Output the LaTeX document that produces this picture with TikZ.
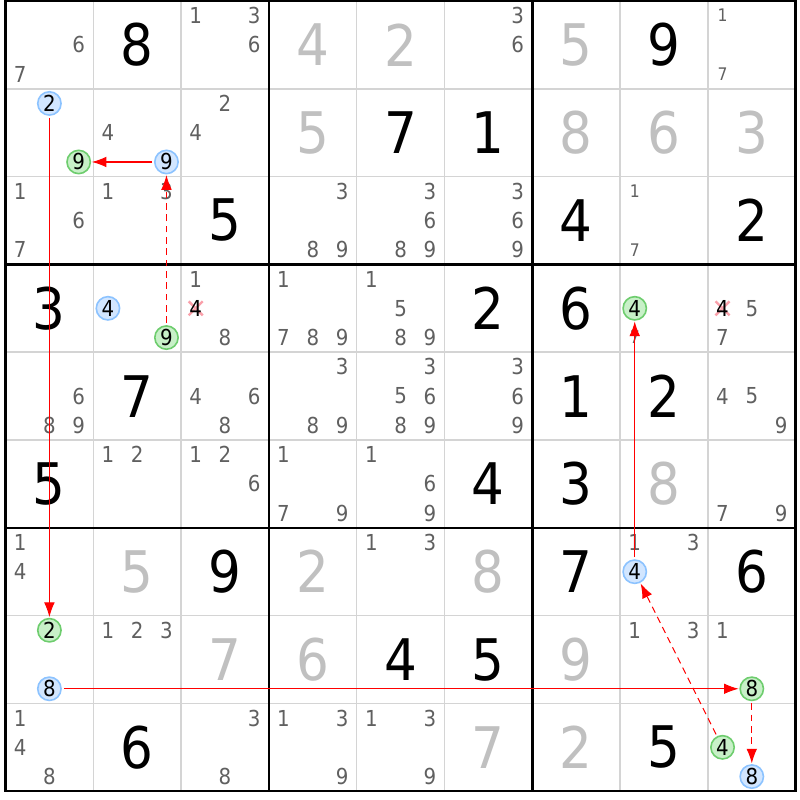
\documentclass[tikz,border=0pt]{standalone}
\usepackage{fontspec}
\setmainfont{DejaVu Sans Condensed}
\usepackage{tikz}
\usetikzlibrary{arrows.meta}
\definecolor{candgray}{RGB}{96,96,96}
\definecolor{setgray}{RGB}{192,192,192}
\definecolor{thingray}{RGB}{212,212,212}
\definecolor{onblue}{RGB}{210,230,255}
\definecolor{onblueline}{RGB}{140,195,255}
\definecolor{ongreen}{RGB}{200,240,200}
\definecolor{ongreenline}{RGB}{110,205,110}
\definecolor{crosspink}{RGB}{250,160,170}
\tikzstyle{given} = [font=\fontsize{43}{43}\selectfont, text=black, inner sep=0pt]
\tikzstyle{solved} = [given, text=setgray]
\tikzstyle{cand} = [font=\fontsize{16.5}{16.5}\selectfont, text=candgray, inner sep=0pt]
\tikzstyle{smallcand} = [cand, font=\fontsize{13}{13}\selectfont]
\tikzstyle{blueon} = [circle, draw=onblueline, fill=onblue, line width=1.2pt,
    minimum size=17.5pt, inner sep=0pt, font=\fontsize{16.5}{16.5}\selectfont]
\tikzstyle{greenon} = [blueon, draw=ongreenline, fill=ongreen]
\tikzstyle{link} = [draw, red, line width=0.8pt, -{Latex[length=11pt,width=8pt]},
    shorten <=1.5pt, shorten >=0.5pt]
\tikzstyle{weaklink} = [link, dash pattern=on 5pt off 3.5pt]
% big digit of a cell: [style]{row}{column}{digit}
\newcommand{\celldigit}[4][given]{\node[#1] (v#2#3) at ({5.5+(#3-0.5)*87.8},{1+(#2-0.5)*87.8}) {#4};}
% candidates of a cell: [style]{row}{column}{digits}
\newcommand{\cands}[4][cand]{\foreach \dg in {#4} {\node[#1] (k#2#3\dg) at
    ({5.5+(#3-1)*87.8+(mod(\dg-1,3)+0.5)*29.267},{1+(#2-1)*87.8+(div(\dg-1,3)+0.5)*29.267}) {\dg};}}
% circled candidate: {style}{row}{column}{digit}
\newcommand{\oncand}[4]{\node[#1] (o#2#3#4) at
    ({5.5+(#3-1)*87.8+(mod(#4-1,3)+0.5)*29.267},{1+(#2-1)*87.8+(div(#4-1,3)+0.5)*29.267}) {#4};}
% eliminated candidate: {row}{column}{digit}
\newcommand{\struckcand}[3]{\coordinate (x#1#2#3) at
    ({5.5+(#2-1)*87.8+(mod(#3-1,3)+0.5)*29.267},{1+(#1-1)*87.8+(div(#3-1,3)+0.5)*29.267});
    \draw[crosspink, line width=1.8pt] ([shift={(-7,-7)}]x#1#2#3) -- ([shift={(7,7)}]x#1#2#3)
        ([shift={(-7,7)}]x#1#2#3) -- ([shift={(7,-7)}]x#1#2#3);
    \node[cand, text=black] (k#1#2#3) at (x#1#2#3) {#3};}

\begin{document}
\begin{tikzpicture}[x=0.75pt, y=-0.75pt]
\useasboundingbox (0,0) rectangle (800,800);
\fill[white] (0,0) rectangle (800,800);
    % Grid
\foreach \i in {1,2,4,5,7,8} {
  \draw[thingray, line width=1.1pt] ({5.5+\i*87.8},1) -- ({5.5+\i*87.8},791);
  \draw[thingray, line width=1.1pt] (5.5,{1+\i*87.8}) -- (795.5,{1+\i*87.8});
}
\foreach \i in {3,6} {
  \draw[line width=1.9pt] ({5.5+\i*87.8},1) -- ({5.5+\i*87.8},791);
  \draw[line width=1.9pt] (5.5,{1+\i*87.8}) -- (795.5,{1+\i*87.8});
}
\draw[line width=1.9pt] (5.5,1) rectangle (795.5,791);

    % Place digits
% row 1
\cands{1}{1}{6,7} \celldigit{1}{2}{8} \cands{1}{3}{1,3,6}
\celldigit[solved]{1}{4}{4} \celldigit[solved]{1}{5}{2} \cands{1}{6}{3,6}
\celldigit[solved]{1}{7}{5} \celldigit{1}{8}{9} \cands[smallcand]{1}{9}{1,7}
% row 2
\oncand{blueon}{2}{1}{2} \oncand{greenon}{2}{1}{9} \cands{2}{2}{4} \oncand{blueon}{2}{2}{9} \cands{2}{3}{2,4}
\celldigit[solved]{2}{4}{5} \celldigit{2}{5}{7} \celldigit{2}{6}{1}
\celldigit[solved]{2}{7}{8} \celldigit[solved]{2}{8}{6} \celldigit[solved]{2}{9}{3}
% row 3
\cands{3}{1}{1,6,7} \cands{3}{2}{1,3} \celldigit{3}{3}{5}
\cands{3}{4}{3,8,9} \cands{3}{5}{3,6,8,9} \cands{3}{6}{3,6,9}
\celldigit{3}{7}{4} \cands[smallcand]{3}{8}{1,7} \celldigit{3}{9}{2}
% row 4
\celldigit{4}{1}{3} \oncand{blueon}{4}{2}{4} \oncand{greenon}{4}{2}{9} \cands{4}{3}{1,8} \struckcand{4}{3}{4}
\cands{4}{4}{1,7,8,9} \cands{4}{5}{1,5,8,9} \celldigit{4}{6}{2}
\celldigit{4}{7}{6} \oncand{greenon}{4}{8}{4} \cands[smallcand]{4}{8}{7} \struckcand{4}{9}{4} \cands{4}{9}{5,7}
% row 5
\cands{5}{1}{6,8,9} \celldigit{5}{2}{7} \cands{5}{3}{4,6,8}
\cands{5}{4}{3,8,9} \cands{5}{5}{3,5,6,8,9} \cands{5}{6}{3,6,9}
\celldigit{5}{7}{1} \celldigit{5}{8}{2} \cands{5}{9}{4,5,9}
% row 6
\celldigit{6}{1}{5} \cands{6}{2}{1,2} \cands{6}{3}{1,2,6}
\cands{6}{4}{1,7,9} \cands{6}{5}{1,6,9} \celldigit{6}{6}{4}
\celldigit{6}{7}{3} \celldigit[solved]{6}{8}{8} \cands{6}{9}{7,9}
% row 7
\cands{7}{1}{1,4} \celldigit[solved]{7}{2}{5} \celldigit{7}{3}{9}
\celldigit[solved]{7}{4}{2} \cands{7}{5}{1,3} \celldigit[solved]{7}{6}{8}
\celldigit{7}{7}{7} \cands{7}{8}{1,3} \oncand{blueon}{7}{8}{4} \celldigit{7}{9}{6}
% row 8
\oncand{greenon}{8}{1}{2} \oncand{blueon}{8}{1}{8} \cands{8}{2}{1,2,3} \celldigit[solved]{8}{3}{7}
\celldigit[solved]{8}{4}{6} \celldigit{8}{5}{4} \celldigit{8}{6}{5}
\celldigit[solved]{8}{7}{9} \cands{8}{8}{1,3} \cands{8}{9}{1} \oncand{greenon}{8}{9}{8}
% row 9
\cands{9}{1}{1,4,8} \celldigit{9}{2}{6} \cands{9}{3}{3,8}
\cands{9}{4}{1,3,9} \cands{9}{5}{1,3,9} \celldigit[solved]{9}{6}{7}
\celldigit[solved]{9}{7}{2} \celldigit{9}{8}{5} \oncand{greenon}{9}{9}{4} \oncand{blueon}{9}{9}{8}

    % Draw links
\path [link] (o212) -- (o812);
\path [link] (o818) -- (o898);
\path [weaklink] (o898) -- (o998);
\path [weaklink] (o994) -- (o784);
\path [link] (o784) -- (o484);
\path [weaklink] (o429) -- (o229);
\path [link] (o229) -- (o219);

\end{tikzpicture}
\end{document}
